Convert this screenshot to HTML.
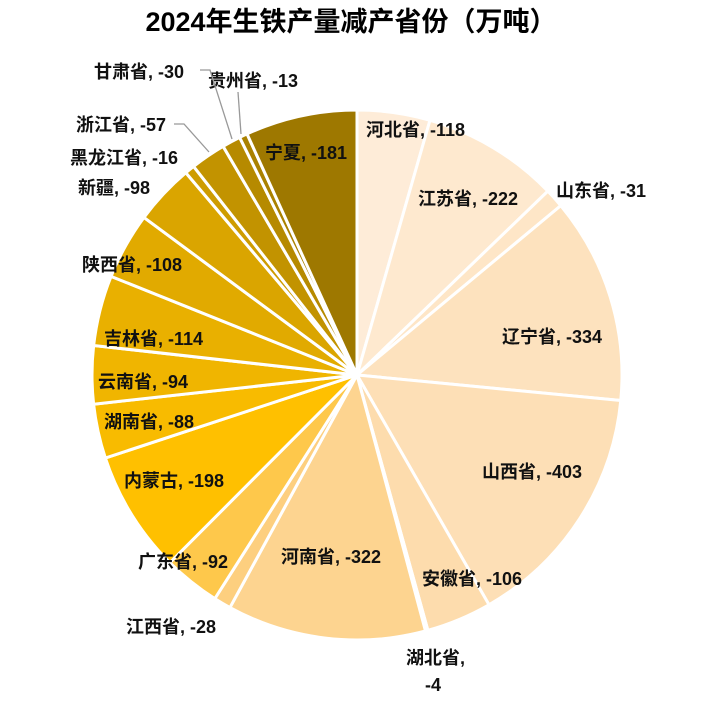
<!DOCTYPE html>
<html><head><meta charset="utf-8"><style>
html,body{margin:0;padding:0;background:#fff;}
svg text{font-family:"Liberation Sans","Noto Sans CJK SC",sans-serif;font-weight:bold;fill:#111;}
</style></head><body>
<svg id="s" width="702" height="699" viewBox="0 0 702 699" xmlns="http://www.w3.org/2000/svg">
<text x="351" y="31" font-size="27" text-anchor="middle" style="fill:#000">2024年生铁产量减产省份（万吨）</text>
<g id="pie"></g>
<g font-size="18">
<text x="366" y="136">河北省, -118</text>
<text x="418" y="205">江苏省, -222</text>
<text x="556" y="197">山东省, -31</text>
<text x="502" y="343">辽宁省, -334</text>
<text x="482" y="478">山西省, -403</text>
<text x="422" y="585">安徽省, -106</text>
<text x="406" y="664">湖北省,</text>
<text x="425" y="691">-4</text>
<text x="281" y="563">河南省, -322</text>
<text x="126" y="633">江西省, -28</text>
<text x="138" y="568">广东省, -92</text>
<text x="124" y="487">内蒙古, -198</text>
<text x="104" y="428">湖南省, -88</text>
<text x="98" y="388">云南省, -94</text>
<text x="104" y="345">吉林省, -114</text>
<text x="82" y="271">陕西省, -108</text>
<text x="78" y="194">新疆, -98</text>
<text x="70" y="164">黑龙江省, -16</text>
<text x="76" y="131">浙江省, -57</text>
<text x="94" y="78">甘肃省, -30</text>
<text x="208" y="87">贵州省, -13</text>
<text x="265" y="159">宁夏, -181</text>
</g>
<g stroke="#999" fill="none" stroke-width="1.3">
<polyline points="174,124 184,124 209,152"/>
<polyline points="200,70 210,70 232,139"/>
<polyline points="238,92 241,134"/>
</g>
</svg>
<script>
var vals=[118,222,31,334,403,106,4,322,28,92,198,88,94,114,108,98,16,57,30,13,181];
var stops=[[0,[254,236,216]],[0.28,[253,218,168]],[0.42,[253,205,120]],[0.5,[255,192,0]],[0.75,[218,165,0]],[1,[158,120,0]]];
function col(t){for(var i=1;i<stops.length;i++){if(t<=stops[i][0]){var a=stops[i-1],b=stops[i],f=(t-a[0])/(b[0]-a[0]);return 'rgb('+a[1].map(function(v,k){return Math.round(v+(b[1][k]-v)*f)}).join(',')+')';}}return 'rgb(158,120,0)';}
var cx=357,cy=375,r=265,tot=vals.reduce(function(a,b){return a+b}),acc=0,g=document.getElementById('pie'),h='';
vals.forEach(function(v,i){var a0=acc/tot*2*Math.PI,a1=(acc+v)/tot*2*Math.PI;acc+=v;
var x0=cx+r*Math.sin(a0),y0=cy-r*Math.cos(a0),x1=cx+r*Math.sin(a1),y1=cy-r*Math.cos(a1);
var t=i/(vals.length-1);
h+='<path d="M'+cx+','+cy+'L'+x0.toFixed(2)+','+y0.toFixed(2)+'A'+r+','+r+' 0 '+((a1-a0)>Math.PI?1:0)+' 1 '+x1.toFixed(2)+','+y1.toFixed(2)+'Z" fill="'+col(t)+'" stroke="#fff" stroke-width="3"/>';});
g.innerHTML=h;
</script>
</body></html>
